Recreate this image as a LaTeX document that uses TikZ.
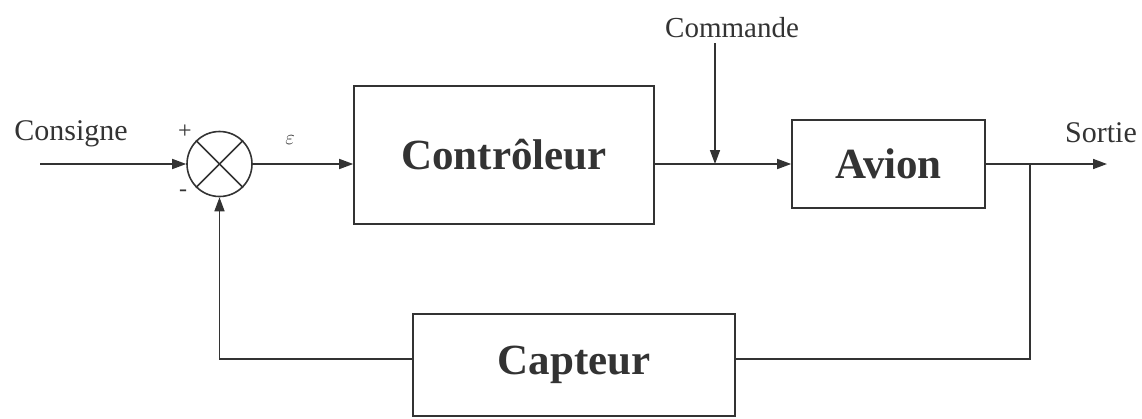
\documentclass[tikz,border=0pt]{standalone}
\usepackage{fontspec}
\setmainfont{Liberation Serif}
\usetikzlibrary{arrows.meta}
\definecolor{ink}{gray}{0.2}
\tikzset{
  wire/.style={line width=1.6pt, draw=ink},
  arr/.style={wire, -{Triangle[length=14pt,width=10pt]}},
  blockbox/.style={draw=ink, line width=1.6pt, rectangle, inner sep=0pt, text=ink, font=\fontsize{43}{48}\selectfont\bfseries},
  lbl/.style={text=ink, inner sep=0pt, font=\fontsize{30}{34}\selectfont},
}
\begin{document}
\begin{tikzpicture}[x=1pt,y=-1pt]
\useasboundingbox (0,0) rectangle (1142,418);
% nodes
\node[draw=ink, line width=1.6pt, circle, minimum size=65pt, inner sep=0pt] (sum) at (219.5,164) {};
\node[blockbox, minimum width=300pt, minimum height=138pt] (ctrl) at (504,155) {Contrôleur};
\node[blockbox, minimum width=193pt, minimum height=88pt] (avion) at (888.5,164) {Avion};
\node[blockbox, minimum width=322pt, minimum height=102pt] (capt) at (574,365) {Capteur};
% labels
\node[lbl] (consigne) at (71,134) {Consigne};
\node[lbl, font=\fontsize{29}{32}\selectfont] (commande) at (732,28) {Commande};
\node[lbl] (sortie) at (1101,133) {Sortie};
\node[lbl, font=\fontsize{24}{26}\selectfont] (plus) at (185,132) {+};
\node[lbl, font=\fontsize{24}{26}\selectfont] (minus) at (183,193) {-};
\node[text=ink, inner sep=0pt, font=\fontsize{22}{24}\selectfont] (eps) at (290,140) {$\varepsilon$};
% coordinates
\coordinate (in) at (40,164);
\coordinate (ctop) at (715,43);
\coordinate (j) at (715,164);
\coordinate (b) at (1030,164);
\coordinate (bl) at (1030,359);
\coordinate (out) at (1107,164);
% cross in summing junction
\draw[wire] (sum.45) -- (sum.225);
\draw[wire] (sum.135) -- (sum.315);
% connectors
\draw[arr] (in) -- (sum.west);
\draw[arr] (sum.east) -- (sum.east -| ctrl.west);
\draw[arr] (ctrl.east |- avion.west) -- (avion.west);
\draw[arr] (ctop) -- (j);
\draw[arr] (avion.east) -- (out);
\draw[wire] (b) -- (bl) -- (bl -| capt.east);
\draw[arr] (bl -| capt.west) -| (sum.south);
\end{tikzpicture}
\end{document}
